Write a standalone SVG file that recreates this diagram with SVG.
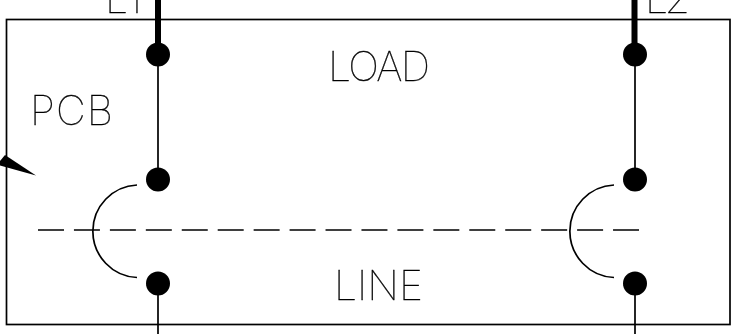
<svg xmlns="http://www.w3.org/2000/svg" width="732" height="334" viewBox="0 0 732 334">
  <style>
    .t { font-family: "Inter", "Liberation Sans", sans-serif; font-weight: 100; font-size: 41px; fill: #000; stroke: #000; stroke-width: 0.35; }
    .w { stroke: #000; stroke-width: 1.7; fill: none; }
    .h { stroke: #000; stroke-width: 6; fill: none; }
    .d { fill: #000; }
  </style>
  <defs>
    <filter id="gray" x="0" y="0" width="1" height="1" filterUnits="objectBoundingBox" color-interpolation-filters="sRGB">
      <feColorMatrix type="saturate" values="0"/>
    </filter>
  </defs>
  <rect width="732" height="334" fill="#fff"/>
  <g id="pcb-box"><rect class="w" x="6.500" y="19.500" width="723.500" height="305"/></g>
  <g id="connectors">
    <path class="h" d="M158 0V55M634.500 0V55"/>
    <path class="w" d="M158 55V180M635 55V180M158 283V334M635 283V334"/>
    <path class="w" d="M137 185A46.3 46.3 0 0 0 137 277.500M614 185A46.3 46.3 0 0 0 614 277.500"/>
    <path class="w" d="M38 230H639" stroke-dasharray="26 9.94"/>
    <polygon class="d" points="36,175.500 5,155 0,161 0,165.500"/>
  </g>
  <g id="node-l1-load"><circle class="d" cx="158" cy="54.500" r="12"/></g>
  <g id="node-l1-line-top"><circle class="d" cx="158" cy="179.500" r="12"/></g>
  <g id="node-l1-line-bottom"><circle class="d" cx="158" cy="283.500" r="12"/></g>
  <g id="node-l2-load"><circle class="d" cx="635" cy="54.500" r="12"/></g>
  <g id="node-l2-line-top"><circle class="d" cx="635" cy="179.500" r="12"/></g>
  <g id="node-l2-line-bottom"><circle class="d" cx="635" cy="283.500" r="12"/></g>
  <g id="labels" filter="url(#gray)">
    <text class="t" x="105" y="13" textLength="37" lengthAdjust="spacing">L1</text>
    <text class="t" x="645" y="13" textLength="45" lengthAdjust="spacing">L2</text>
    <text class="t" x="328" y="81" textLength="102" lengthAdjust="spacing">LOAD</text>
    <text class="t" x="30" y="125" textLength="83" lengthAdjust="spacing">PCB</text>
    <text class="t" x="334" y="300" textLength="89" lengthAdjust="spacing">LINE</text>
  </g>
</svg>
